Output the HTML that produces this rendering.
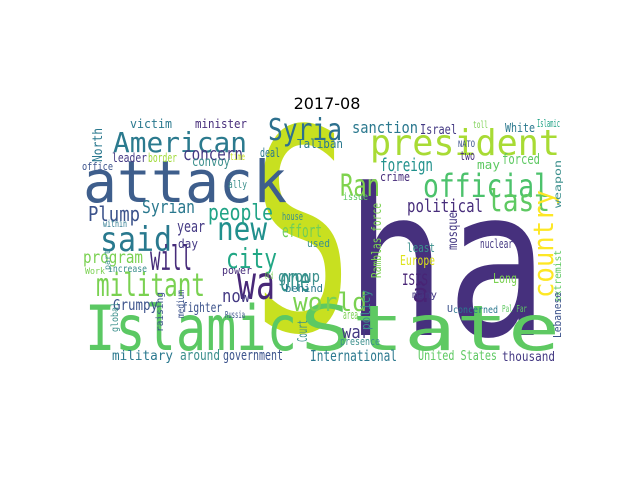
<!DOCTYPE html>
<html><head><meta charset="utf-8"><style>
html,body{margin:0;padding:0;background:#fff;}
svg{display:block;}
</style></head><body>
<svg id="chart" width="640" height="480" viewBox="0 0 640 480" xmlns="http://www.w3.org/2000/svg">
<rect x="0" y="0" width="640" height="480" fill="#fff"/>
<text x="327" y="109" text-anchor="middle" font-family="DejaVu Sans, Liberation Sans, sans-serif" font-size="16" fill="#000">2017-08</text>
<g id="cloud" font-family="DejaVu Sans Mono, Liberation Mono, monospace"></g>
</svg>
<script>
// word cloud data: text, x, baseline y, font size, text length, colour, vertical flag
const wordTexts = ["S","ha","attack","Islamic","State","American","Syria","president","official","Ran","last","said","new","will","city","militant","wa","one","world","â","ISIS","people","Plump","Syrian","year","effort","house","within","concern","leader","border","convoy","deal","office","victim","minister","time","ally","Taliban","sanction","Israel","toll","White","Islamic","NATO","foreign","two","may","forced","crime","issue","political","nuclear","least","Europe","Long","many","Pal Far","concerned","U","used","day","program","increase","Work","power","group","behind","now","Grumpy","fighter","Russia","area","war","presence","Old","military","around","government","International","United States","thousand","country","North","mosque","Ramblas force","Court","policy","raising","global","medium","part","weapon","extremist","Lebanese"];
const wordX = [252,345,83,85,300,113,268,370,423,340,487,100,217,150,226,96,237,280,293,412,402,208,88,142,177,282,282,103,183,112,148,192,260,82,130,195,230,228,297,352,420,473,505,537,458,380,460,477,502,380,343,407,480,407,400,493,412,502,453,447,307,178,83,108,85,222,278,285,222,113,182,225,343,342,340,265,112,180,223,310,418,502,553,102,457,381,307,370,163,118,184,110,561,561,561];
const wordY = [330,335,202,350,350,152,140,155,197,196,211,251,240,270,268,296,299,291,311,302,285,220,221,213,232,237,220,227,160,162,162,166,157,170,128,128,160,188,148,133,134,128,132,127,147,171,160,169,164,181,200,212,248,252,265,283,298,312,313,312,247,248,263,272,274,274,282,292,302,310,312,318,319,338,345,279,360,360,360,361,360,361,298,162,250,278,342,330,332,332,318,270,208,302,338];
const wordSizes = [280,205,58,62,62,28,30,36,32,30,30,34,32,34,28,32,46,32,26,26,16,22,20,18,16,18,11,10,18,12,12,13,12,11,12,12,10,11,12,16,13,10,12,11,9,18,12,12,14,12,10,18,12,12,13,13,10,10,10,10,11,12,17,10,9,11,16,11,18,15,13,10,12,18,11,10,13,14,14,15,13,13,28,13,13,13,13,12,10,10,10,8,10,10,11];
const wordLens = [100,203,204,212,260,134,74,190,127,40,63,72,50,42,51,109,38,30,74,17,26,65,52,53,28,40,21,24,60,35,29,38,20,31,42,52,15,19,46,66,37,15,30,23,17,53,15,23,38,30,25,76,33,28,35,24,25,25,45,6,23,20,60,39,20,30,42,38,28,45,40,20,15,28,40,8,61,40,60,87,79,53,108,34,38,75,22,40,40,30,28,20,48,52,46];
const wordColors = ["#c8e020","#46307d","#3e5e8c","#5bc863","#5ec962","#2b7a8e","#2d708e","#a8db34","#4cc26c","#7fd34e","#5ec962","#29798e","#21908d","#472c7a","#22a785","#7ad151","#482878","#33938c","#7ad151","#482475","#482475","#20a386","#3b528b","#2a788e","#443983","#6ece58","#3b8f8c","#2a788e","#443983","#443983","#a0da39","#3b8f8c","#2a788e","#3b528b","#2a788e","#472d7b","#c8e020","#3b8f8c","#2a788e","#2a788e","#443983","#7ad151","#2a788e","#20a386","#3b528b","#21918c","#472d7b","#5ec962","#5ec962","#472d7b","#5ec962","#472d7b","#443983","#3b8f8c","#dde318","#7ad151","#443983","#5ec962","#2a788e","#3b528b","#3b8f8c","#443983","#7ad151","#3b8f8c","#7ad151","#472d7b","#3b8f8c","#2a788e","#443983","#3b528b","#3b528b","#3b528b","#7ad151","#443983","#3b8f8c","#7ad151","#2a788e","#3b8f8c","#3b528b","#2a788e","#5ec962","#443983","#fde725","#2a788e","#443983","#7ad151","#3b8f8c","#3b8f8c","#3b528b","#3b8f8c","#3b528b","#3b8f8c","#3b8f8c","#5ec962","#3b528b"];
const wordVertical = [0,0,0,0,0,0,0,0,0,0,0,0,0,0,0,0,0,0,0,0,0,0,0,0,0,0,0,0,0,0,0,0,0,0,0,0,0,0,0,0,0,0,0,0,0,0,0,0,0,0,0,0,0,0,0,0,0,0,0,0,0,0,0,0,0,0,0,0,0,0,0,0,0,0,0,0,0,0,0,0,0,0,1,1,1,1,1,1,1,1,1,1,1,1,1];

const NS = "http://www.w3.org/2000/svg";
const g = document.getElementById('cloud');
for (let i = 0; i < wordTexts.length; i++) {
  const t = document.createElementNS(NS, 'text');
  
  
  t.setAttribute('font-size', wordSizes[i]);
  t.setAttribute('fill', wordColors[i]);
  t.setAttribute('textLength', wordLens[i]);
  t.setAttribute('lengthAdjust', 'spacingAndGlyphs');
  if (wordVertical[i]) {
    t.setAttribute('transform', 'translate(' + wordX[i] + ',' + wordY[i] + ') rotate(-90)');
  } else {
    t.setAttribute('x', wordX[i]);
    t.setAttribute('y', wordY[i]);
  }
  t.textContent = wordTexts[i];
  g.appendChild(t);
}
</script>
</body></html>
